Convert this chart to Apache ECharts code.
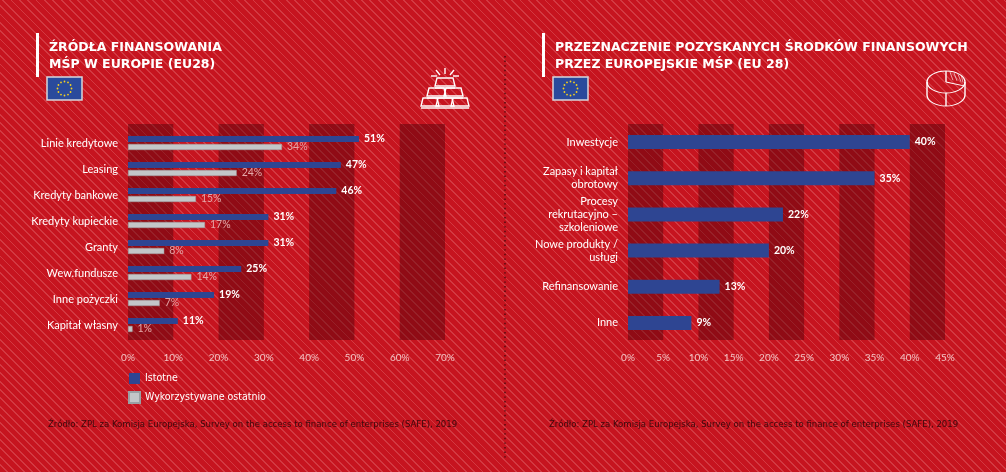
<!DOCTYPE html>
<html><head><meta charset="utf-8">
<script src="https://cdn.jsdelivr.net/npm/echarts@6/dist/echarts.min.js"></script>
<style>
html,body{margin:0;padding:0;width:1006px;height:472px;overflow:hidden;}
body{background-color:#c6141f;background-image:repeating-linear-gradient(45deg,rgba(255,255,255,0) 0,rgba(255,255,255,0) 4.6px,rgba(255,190,190,0.22) 4.6px,rgba(255,190,190,0.22) 5.9px);}
#c{width:1006px;height:472px;}
</style></head><body><div id="c"></div>
<script>
const categoriesLeft = ['Linie kredytowe','Leasing','Kredyty bankowe','Kredyty kupieckie','Granty','Wew.fundusze','Inne pożyczki','Kapitał własny'];
const istotne = [51,47,46,31,31,25,19,11];
const wykorzystywane = [34,24,15,17,8,14,7,1];
const categoriesRight = ['Inwestycje','Zapasy i kapitał\nobrotowy','Procesy\nrekrutacyjno –\nszkoleniowe','Nowe produkty /\nusługi','Refinansowanie','Inne'];
const przeznaczenie = [40,35,22,20,13,9];
const ticksLeft = {min:0,max:70,interval:10};
const ticksRight = {min:0,max:45,interval:5};

const FONT = 'Lato, "Noto Sans", sans-serif';
const NARROW = '"Liberation Sans Narrow", "DejaVu Sans Condensed", sans-serif';
const BLUE = '#2e4592';
const GRAY = '#c3c6c8';
const BAND = ['rgba(70,0,8,0.42)','rgba(0,0,0,0)'];

function flag(x,y){
  const ch=[{type:'rect',shape:{x:0,y:0,width:35,height:23},style:{fill:'#2a4a9c',stroke:'#d6d6dc',lineWidth:1.5}}];
  for(let i=0;i<12;i++){const a=i*Math.PI/6;ch.push({type:'circle',shape:{cx:17.5+7*Math.cos(a),cy:11.5+7*Math.sin(a),r:0.9},style:{fill:'#f5d21e'}});}
  return {type:'group',x:x,y:y,children:ch};
}
const W={stroke:'#ffffff',fill:null,lineWidth:1.4};
function ln(x1,y1,x2,y2,lw){return {type:'line',shape:{x1:x1,y1:y1,x2:x2,y2:y2},style:{stroke:'#ffffff',lineWidth:lw||1.4}};}
function pg(pts){return {type:'polygon',shape:{points:pts},style:W};}
const goldIcon={type:'group',x:421,y:63,children:[
  ln(24,5,24,11), ln(15,7,19,12), ln(33,7,29,12), ln(10,13,16,13), ln(32,13,38,13),
  pg([[16,15],[32,15],[34,23],[14,23]]), ln(14,25,34,25),
  pg([[8,25],[23,25],[25,33],[6,33]]), pg([[25,25],[40,25],[42,33],[23,33]]), ln(6,35,42,35),
  pg([[2,35],[16,35],[18,43],[0,43]]), pg([[17,35],[31,35],[33,43],[15,43]]), pg([[32,35],[46,35],[48,43],[30,43]]), ln(0,45,48,45)
]};
const R=19, SC=11/19;
const NS={stroke:'#ffffff',fill:null,lineWidth:1.4,strokeNoScale:true};
const TS={stroke:'#ffffff',fill:null,lineWidth:0.8,strokeNoScale:true};
const pieIcon={type:'group',x:946,y:82,children:[
  {type:'group',scaleY:SC,children:[
    {type:'circle',shape:{cx:0,cy:0,r:R},style:NS},
    {type:'line',shape:{x1:0,y1:0,x2:0,y2:-R},style:NS},
    {type:'line',shape:{x1:0,y1:0,x2:17.9,y2:6.5},style:NS},
    {type:'line',shape:{x1:4,y1:-17,x2:7,y2:-3},style:TS},
    {type:'line',shape:{x1:8,y1:-15.5,x2:11,y2:-2},style:TS},
    {type:'line',shape:{x1:12,y1:-13.5,x2:15,y2:-0.5},style:TS},
    {type:'line',shape:{x1:15.5,y1:-10.5,x2:17,y2:1},style:TS}
  ]},
  {type:'group',y:13,scaleY:SC,children:[
    {type:'arc',shape:{cx:0,cy:0,r:R,startAngle:0,endAngle:Math.PI},style:NS}
  ]},
  ln(-R,0,-R,13), ln(R,0,R,13), ln(0,11,0,24)
]};

const chart = echarts.init(document.getElementById('c'),null,{renderer:'canvas'});
chart.setOption({
  animation:false,
  textStyle:{fontFamily:FONT},
  title:[
    {text:'ŹRÓDŁA FINANSOWANIA\nMŚP W EUROPIE (EU28)',left:49,top:39,padding:0,textStyle:{color:'#ffffff',fontFamily:'"DejaVu Sans", sans-serif',fontWeight:'bold',fontSize:12.5,lineHeight:17}},
    {text:'PRZEZNACZENIE POZYSKANYCH ŚRODKÓW FINANSOWYCH\nPRZEZ EUROPEJSKIE MŚP (EU 28)',left:555,top:39,padding:0,textStyle:{color:'#ffffff',fontFamily:'"DejaVu Sans", sans-serif',fontWeight:'bold',fontSize:12.5,lineHeight:17}}
  ],
  legend:{data:['Istotne','Wykorzystywane ostatnio'],orient:'vertical',left:128,top:373,padding:0,itemWidth:11,itemHeight:11,itemGap:7,icon:'rect',
    textStyle:{color:'#ffffff',fontSize:10.5,fontFamily:NARROW}},
  grid:[
    {left:128,right:561,top:124,bottom:132},
    {left:128,right:561,top:130,bottom:134},
    {left:628,right:61,top:124,bottom:132},
    {left:628,right:61,top:124,bottom:131}
  ],
  xAxis:[
    {gridIndex:0,type:'value',min:ticksLeft.min,max:ticksLeft.max,interval:ticksLeft.interval,axisLine:{show:false},axisTick:{show:false},splitLine:{show:false},
      splitArea:{show:true,areaStyle:{color:BAND}},axisLabel:{formatter:'{value}%',color:'#f3c4c4',fontSize:10,margin:13}},
    {gridIndex:1,type:'value',min:ticksLeft.min,max:ticksLeft.max,show:false},
    {gridIndex:2,type:'value',min:ticksRight.min,max:ticksRight.max,interval:ticksRight.interval,axisLine:{show:false},axisTick:{show:false},splitLine:{show:false},
      splitArea:{show:true,areaStyle:{color:BAND}},axisLabel:{formatter:'{value}%',color:'#f3c4c4',fontSize:10,margin:13}},
    {gridIndex:3,type:'value',min:ticksRight.min,max:ticksRight.max,show:false}
  ],
  yAxis:[
    {gridIndex:0,type:'value',show:false},
    {gridIndex:1,type:'category',data:categoriesLeft,inverse:true,axisLine:{show:false},axisTick:{show:false},
      axisLabel:{color:'#ffffff',fontSize:11,margin:10}},
    {gridIndex:2,type:'value',show:false},
    {gridIndex:3,type:'category',data:categoriesRight,inverse:true,axisLine:{show:false},axisTick:{show:false},
      axisLabel:{color:'#ffffff',fontSize:11,margin:10,lineHeight:13}}
  ],
  series:[
    {name:'Istotne',type:'bar',xAxisIndex:1,yAxisIndex:1,data:istotne,barWidth:6,barGap:'33%',itemStyle:{color:BLUE},
      label:{show:true,position:'right',distance:5,formatter:'{c}%',color:'#ffffff',fontWeight:'bold',fontSize:10.5}},
    {name:'Wykorzystywane ostatnio',type:'bar',xAxisIndex:1,yAxisIndex:1,data:wykorzystywane,barWidth:6,barGap:'33%',itemStyle:{color:GRAY,borderColor:'#9aa0a3',borderWidth:0.5},
      label:{show:true,position:'right',distance:5,formatter:'{c}%',color:'#e3a6a8',fontSize:10.5}},
    {name:'Przeznaczenie',type:'bar',xAxisIndex:3,yAxisIndex:3,data:przeznaczenie,barWidth:14,itemStyle:{color:BLUE},
      label:{show:true,position:'right',distance:5,formatter:'{c}%',color:'#ffffff',fontWeight:'bold',fontSize:10.5}}
  ],
  graphic:[
    {type:'rect',shape:{x:36,y:33,width:3,height:44},style:{fill:'#ffffff'}},
    {type:'rect',shape:{x:542,y:33,width:3,height:44},style:{fill:'#ffffff'}},
    flag(47,77), flag(553,77),
    goldIcon, pieIcon,
    {type:'line',shape:{x1:505,y1:56,x2:505,y2:458},style:{stroke:'#4a0a0e',lineWidth:1.4,lineDash:[1.4,3.2]}},
    {type:'text',x:48,y:425,style:{text:'Źródło: ZPL za Komisja Europejska, Survey on the access to finance of enterprises (SAFE), 2019',fill:'#3a0a0d',font:'9.5px '+NARROW,textVerticalAlign:'middle'}},
    {type:'text',x:549,y:425,style:{text:'Źródło: ZPL za Komisja Europejska, Survey on the access to finance of enterprises (SAFE), 2019',fill:'#3a0a0d',font:'9.5px '+NARROW,textVerticalAlign:'middle'}}
  ]
});
</script></body></html>
